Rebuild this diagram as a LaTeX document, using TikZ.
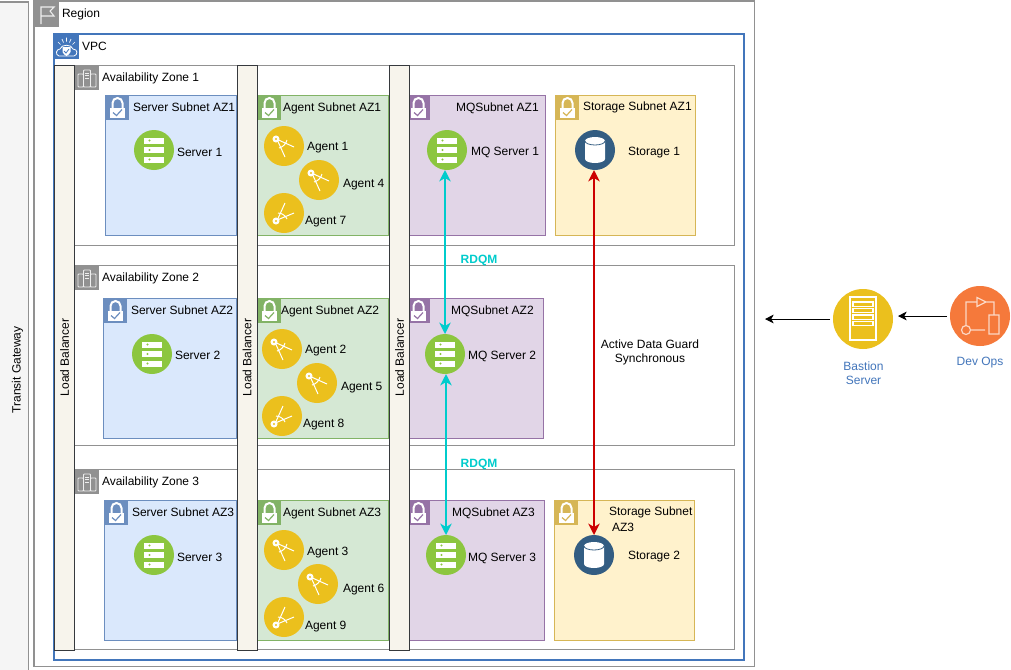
\documentclass[tikz,border=0pt]{standalone}
\usepackage{fontspec}
\setmainfont{Liberation Sans}
\usetikzlibrary{arrows.meta}
\definecolor{gborder}{HTML}{919191}
\definecolor{vpcblue}{HTML}{4376BB}
\definecolor{lbfill}{HTML}{F7F4EC}
\definecolor{lbline}{HTML}{36393D}
\definecolor{trfill}{HTML}{F5F5F5}
\definecolor{srvfill}{HTML}{DAE8FC}\definecolor{srvline}{HTML}{6C8EBF}
\definecolor{agtfill}{HTML}{D5E8D4}\definecolor{agtline}{HTML}{82B366}
\definecolor{mqfill}{HTML}{E1D5E7}\definecolor{mqline}{HTML}{9673A6}
\definecolor{stofill}{HTML}{FFF2CC}\definecolor{stoline}{HTML}{D6B656}
\definecolor{circgreen}{HTML}{8CC63F}
\definecolor{circyellow}{HTML}{EBC01D}
\definecolor{circblue}{HTML}{335D82}
\definecolor{circorange}{HTML}{F5793B}
\definecolor{rdqm}{HTML}{00CCCC}
\definecolor{adg}{HTML}{CC0000}
\tikzset{
  px/.style={x=0.75pt,y=-0.75pt},
  box/.style={rectangle,draw,inner sep=0pt,outer sep=0pt,anchor=north west,line width=0.75pt},
  txt/.style={inner sep=0pt,outer sep=0pt,font=\fontsize{9}{10.5}\selectfont,text=black},
  lbl/.style={txt,anchor=west,yshift=-0.75pt},
  bluetxt/.style={txt,text=vpcblue,align=center},
  rdqmtxt/.style={txt,text=rdqm,font=\fontsize{9}{10.5}\selectfont\bfseries,yshift=-0.75pt},
  regionbox/.style={box,draw=gborder,line width=1.2pt,fill=white},
  vpcbox/.style={box,draw=vpcblue,line width=1.5pt,fill=white},
  azbox/.style={box,draw=gborder,fill=white},
  srvbox/.style={box,draw=srvline,fill=srvfill},
  agtbox/.style={box,draw=agtline,fill=agtfill},
  mqbox/.style={box,draw=mqline,fill=mqfill},
  stobox/.style={box,draw=stoline,fill=stofill},
  lbbox/.style={rectangle,draw=lbline,fill=lbfill,line width=0.75pt,inner sep=0pt,outer sep=0pt,rotate=90,
     minimum width=438.75pt,font=\fontsize{9}{10.5}\selectfont},
  dot/.style={circle,inner sep=0pt,outer sep=0pt,minimum size=30pt},
  gcirc/.style={dot,fill=circgreen},
  ycirc/.style={dot,fill=circyellow},
  bcirc/.style={dot,fill=circblue},
  bigy/.style={dot,minimum size=45pt,fill=circyellow},
  bigo/.style={dot,minimum size=45pt,fill=circorange},
  cyanarrow/.style={draw=rdqm,line width=1.5pt,{Stealth[length=8.5pt,width=8.5pt,inset=2.5pt]}-{Stealth[length=8.5pt,width=8.5pt,inset=2.5pt]}},
  redarrow/.style={draw=adg,line width=1.5pt,{Stealth[length=8.5pt,width=8.5pt,inset=2.5pt]}-{Stealth[length=8.5pt,width=8.5pt,inset=2.5pt]}},
  blackarrow/.style={draw=black,line width=0.75pt,-{Stealth[length=6.5pt,width=6.5pt,inset=1.8pt]}},
  pics/lockicon/.style={code={
    \fill[#1] (0,0) rectangle (24,25);
    \draw[white,line width=1.5pt] (7.5,13) -- (7.5,8) arc[start angle=180,end angle=360,x radius=5,y radius=5] -- (17.5,13);
    \fill[white] (5,12.5) rectangle (20,23);
    \draw[#1,line width=0.9pt] (8,17.5) -- (11.5,20.5) -- (17,14.5);
  }},
  pics/srvicon/.style={code={
    \foreach \yy in {-9.5,0,9.5}{
      \fill[white] (-10,\yy-3) rectangle (10,\yy+3);
      \fill[circgreen] (-4.5,\yy) circle[radius=1.2];
    }
  }},
  pics/agentup/.style={code={
    \draw[white,line width=0.75pt,fill=white] (-8,-7) circle[radius=3];
    \fill[circyellow] (-8,-7) circle[radius=1.2];
    \draw[white,line width=0.75pt] (-6,-4.5) -- (1,11) (-5.5,-6) -- (10,1) (-5,2) .. controls (-1,1) and (2,-2) .. (3,-6);
  }},
  pics/agentdown/.style={code={
    \draw[white,line width=0.75pt,fill=white] (-8,8) circle[radius=3];
    \fill[circyellow] (-8,8) circle[radius=1.2];
    \draw[white,line width=0.75pt] (-5.5,6.5) -- (10,0) (-6,5.5) -- (1,-10) (-6,0) .. controls (-2,0) and (2,3) .. (3,6);
  }},
  pics/cylicon/.style={code={
    \fill[white] (-10,-9) -- (-10,9) arc[start angle=180,end angle=0,x radius=10,y radius=4] -- (10,-9) arc[start angle=360,end angle=180,x radius=10,y radius=4] -- cycle;
    \draw[circblue,line width=0.6pt] (-10,-9) arc[start angle=180,end angle=0,x radius=10,y radius=4];
  }},
  pics/rackicon/.style={code={
    \draw[white,line width=1.1pt] (-13,-22) rectangle (13,21);
    \foreach \yy in {-15,-8.5,-2,4.5}{
      \draw[white,line width=0.9pt,fill=circyellow] (-10,\yy-2) rectangle (10,\yy+2.2);
    }
  }},
  pics/opsicon/.style={code={
    \draw[white!70!circorange,line width=0.9pt]
      (-14,9) -- (-14,-14) -- (-3,-14)
      (-3,-18.5) -- (-3,-9.5) -- (6,-14) -- cycle
      (6,-14) -- (14,-14) -- (14,-1)
      (9,-1) rectangle (19,18)
      (-14,14) circle[radius=4.5]
      (-9.5,14) -- (5,14);
  }},
  pics/flagicon/.style={code={
    \fill[gborder] (0,0) rectangle (24,25);
    \draw[white!85!gborder,line width=0.8pt] (6,22) -- (6,5) -- (19,5) -- (15,9) -- (19,14) -- (6,14);
  }},
  pics/zoneicon/.style={code={
    \fill[gborder] (0,0) rectangle (24,25);
    \draw[white!85!gborder,line width=0.6pt,rounded corners=0.6pt]
      (3,9) rectangle (8.5,22) (15.5,9) rectangle (21,22) (8.5,5) rectangle (15.5,22);
    \draw[white!85!gborder,line width=0.5pt] (10,8) -- (14,8) (10,10.5) -- (14,10.5) (10,13) -- (14,13);
  }},
  pics/vpcicon/.style={code={
    \fill[vpcblue] (0,0) rectangle (25,25);
    \draw[white,line width=0.6pt] (5,22) .. controls (1,21) and (2,15) .. (6,15) .. controls (7,10) and (18,10) .. (19,15) .. controls (24,15) and (24,21) .. (20,22) -- cycle;
    \fill[white] (8.5,13) -- (16.5,13) -- (16.5,18) .. controls (16,20) and (14,21) .. (12.5,22) .. controls (11,21) and (9,20) .. (8.5,18) -- cycle;
    \draw[vpcblue,line width=0.6pt] (10,17) -- (12,19) -- (15,15);
    \draw[white,line width=0.5pt] (4,8) -- (6.5,10.5) (12.5,3.5) -- (12.5,7.5) (8,5) -- (9.5,8.5) (17,5) -- (15.5,8.5) (21,8) -- (18.5,10.5);
  }},
}
\newcommand{\bx}[6]{%
  \pgfmathsetmacro{\bw}{(#5-#3-0.6)*0.75}%
  \pgfmathsetmacro{\bh}{(#6-#4-0.6)*0.75}%
  \node[#1,minimum width=\bw pt,minimum height=\bh pt] (#2) at (#3,#4) {};}
\begin{document}
\begin{tikzpicture}[px]
\useasboundingbox (0,0) rectangle (1011,669);
\fill[white] (0,0) rectangle (1011,669);

% outer containers
\bx{box,draw=gborder,fill=trfill,line width=1.1pt}{transit}{-2}{2}{29}{672}
\bx{regionbox}{region}{34}{1}{755}{667}
\bx{vpcbox}{vpc}{54}{34}{745}{661}
\bx{azbox}{azone1}{74}{65}{735}{246}
\bx{azbox}{azone2}{74}{265}{735}{446}
\bx{azbox}{azone3}{74}{469}{735}{650}

% subnets
\bx{srvbox}{srv1}{105}{95}{237}{236}
\bx{srvbox}{srv2}{103}{298}{237}{439}
\bx{srvbox}{srv3}{104}{500}{237}{641}
\bx{agtbox}{agt1}{257}{95}{389}{236}
\bx{agtbox}{agt2}{257}{298}{389}{439}
\bx{agtbox}{agt3}{257}{500}{389}{641}
\bx{mqbox}{mqn1}{405}{95}{546}{236}
\bx{mqbox}{mqn2}{405}{298}{544}{439}
\bx{mqbox}{mqn3}{405}{500}{545}{641}
\bx{stobox}{sto1}{555}{95}{696}{236}
\bx{stobox}{sto3}{554}{500}{695}{641}

% subnet icons
\pic at (105,95) {lockicon=srvline};
\pic at (103,298) {lockicon=srvline};
\pic at (104,500) {lockicon=srvline};
\pic at (257,95) {lockicon=agtline};
\pic at (257,298) {lockicon=agtline};
\pic at (257,500) {lockicon=agtline};
\pic at (406,95) {lockicon=mqline};
\pic at (406,298) {lockicon=mqline};
\pic at (406,500) {lockicon=mqline};
\pic at (555,95) {lockicon=stoline};
\pic at (554,500) {lockicon=stoline};

% load balancers
\node[lbbox,minimum height=15.4pt] (lb1) at (64.5,357.5) {Load Balancer};
\node[lbbox,minimum height=15pt] (lb2) at (247,357.5) {Load Balancer};
\node[lbbox,minimum height=15.4pt] (lb3) at (399.5,357.5) {Load Balancer};

% container icons
\pic at (35,2) {flagicon};
\pic at (54,34) {vpcicon};
\pic at (75,65) {zoneicon};
\pic at (75,265) {zoneicon};
\pic at (75,469) {zoneicon};

% circles
\node[gcirc] (server1) at (154,150) {}; \pic at (154,150) {srvicon};
\node[gcirc] (server2) at (152,354) {}; \pic at (152,354) {srvicon};
\node[gcirc] (server3) at (154,555) {}; \pic at (154,555) {srvicon};
\node[gcirc] (mq1) at (447,150) {}; \pic at (447,150) {srvicon};
\node[gcirc] (mq2) at (445,354) {}; \pic at (445,354) {srvicon};
\node[gcirc] (mq3) at (446,555) {}; \pic at (446,555) {srvicon};
\node[ycirc] (agent1) at (284,146) {}; \pic at (284,146) {agentup};
\node[ycirc] (agent4) at (319,180) {}; \pic at (319,180) {agentup};
\node[ycirc] (agent7) at (284,213) {}; \pic at (284,213) {agentdown};
\node[ycirc] (agent2) at (282,349) {}; \pic at (282,349) {agentup};
\node[ycirc] (agent5) at (317,383) {}; \pic at (317,383) {agentup};
\node[ycirc] (agent8) at (282,416) {}; \pic at (282,416) {agentdown};
\node[ycirc] (agent3) at (284,550) {}; \pic at (284,550) {agentup};
\node[ycirc] (agent6) at (318,584) {}; \pic at (318,584) {agentup};
\node[ycirc] (agent9) at (284,617) {}; \pic at (284,617) {agentdown};
\node[bcirc] (storage1) at (595,150) {}; \pic at (595,150) {cylicon};
\node[bcirc] (storage2) at (594,555) {}; \pic at (594,555) {cylicon};
\node[bigy] (bastion) at (863,319) {}; \pic at (863,319) {rackicon};
\node[bigo] (devops) at (980,316) {}; \pic at (980,316) {opsicon};

% labels
\node[txt,rotate=90] (ltransit) at (17.5,370) {Transit Gateway};
\node[lbl] (lregion) at (62,13) {Region};
\node[lbl] (lvpc) at (82,45.5) {VPC};
\node[lbl] (laz1) at (102,77) {Availability Zone 1};
\node[lbl] (laz2) at (102,277) {Availability Zone 2};
\node[lbl] (laz3) at (102,481) {Availability Zone 3};
\node[lbl] (ls1) at (133,106.5) {Server Subnet AZ1};
\node[lbl] (ls2) at (131,309.5) {Server Subnet AZ2};
\node[lbl] (ls3) at (132,511.5) {Server Subnet AZ3};
\node[lbl] (la1) at (283,107) {Agent Subnet AZ1};
\node[lbl] (la2) at (281,310) {Agent Subnet AZ2};
\node[lbl] (la3) at (283,512) {Agent Subnet AZ3};
\node[lbl] (lm1) at (456,107) {MQSubnet AZ1};
\node[lbl] (lm2) at (451,310) {MQSubnet AZ2};
\node[lbl] (lm3) at (452,512) {MQSubnet AZ3};
\node[lbl] (lt1) at (583,106.5) {Storage Subnet AZ1};
\node[lbl] (lt3a) at (609,511.5) {Storage Subnet};
\node[lbl] (lt3b) at (612,526) {AZ3};
\node[lbl] (lsv1) at (177,151) {Server 1};
\node[lbl] (lsv2) at (175,354) {Server 2};
\node[lbl] (lsv3) at (177,556) {Server 3};
\node[lbl] (lag1) at (307,147) {Agent 1};
\node[lbl] (lag4) at (343,184) {Agent 4};
\node[lbl] (lag7) at (305,221) {Agent 7};
\node[lbl] (lag2) at (305,350) {Agent 2};
\node[lbl] (lag5) at (341,387) {Agent 5};
\node[lbl] (lag8) at (303,424) {Agent 8};
\node[lbl] (lag3) at (307,552) {Agent 3};
\node[lbl] (lag6) at (343,589) {Agent 6};
\node[lbl] (lag9) at (305,626) {Agent 9};
\node[lbl] (lmq1) at (471,151) {MQ Server 1};
\node[lbl] (lmq2) at (468,355) {MQ Server 2};
\node[lbl] (lmq3) at (468,557) {MQ Server 3};
\node[lbl] (lst1) at (628,152) {Storage 1};
\node[lbl] (lst2) at (628,556) {Storage 2};
\node[txt,align=center] (ladg) at (650,352) {Active Data Guard\\Synchronous};
\node[bluetxt] (lbast) at (863.5,373) {Bastion\\Server};
\node[bluetxt] (ldev) at (980,363) {Dev Ops};
\node[rdqmtxt] (lr1) at (479,259) {RDQM};
\node[rdqmtxt] (lr2) at (479,463) {RDQM};

% connectors
\draw[cyanarrow] (mq2.north) -- (mq2.north |- mq1.south);
\draw[cyanarrow] (mq3.north) -- (mq3.north |- mq2.south);
\draw[redarrow] (storage2.north) -- (storage2.north |- storage1.south);
\coordinate (regionedge) at (765,319);
\draw[blackarrow,shorten <=2.25pt] (bastion.west) -- (regionedge);
\draw[blackarrow,shorten <=2.25pt,shorten >=3.75pt] (devops.west) -- (devops.west -| bastion.east);
\end{tikzpicture}
\end{document}
